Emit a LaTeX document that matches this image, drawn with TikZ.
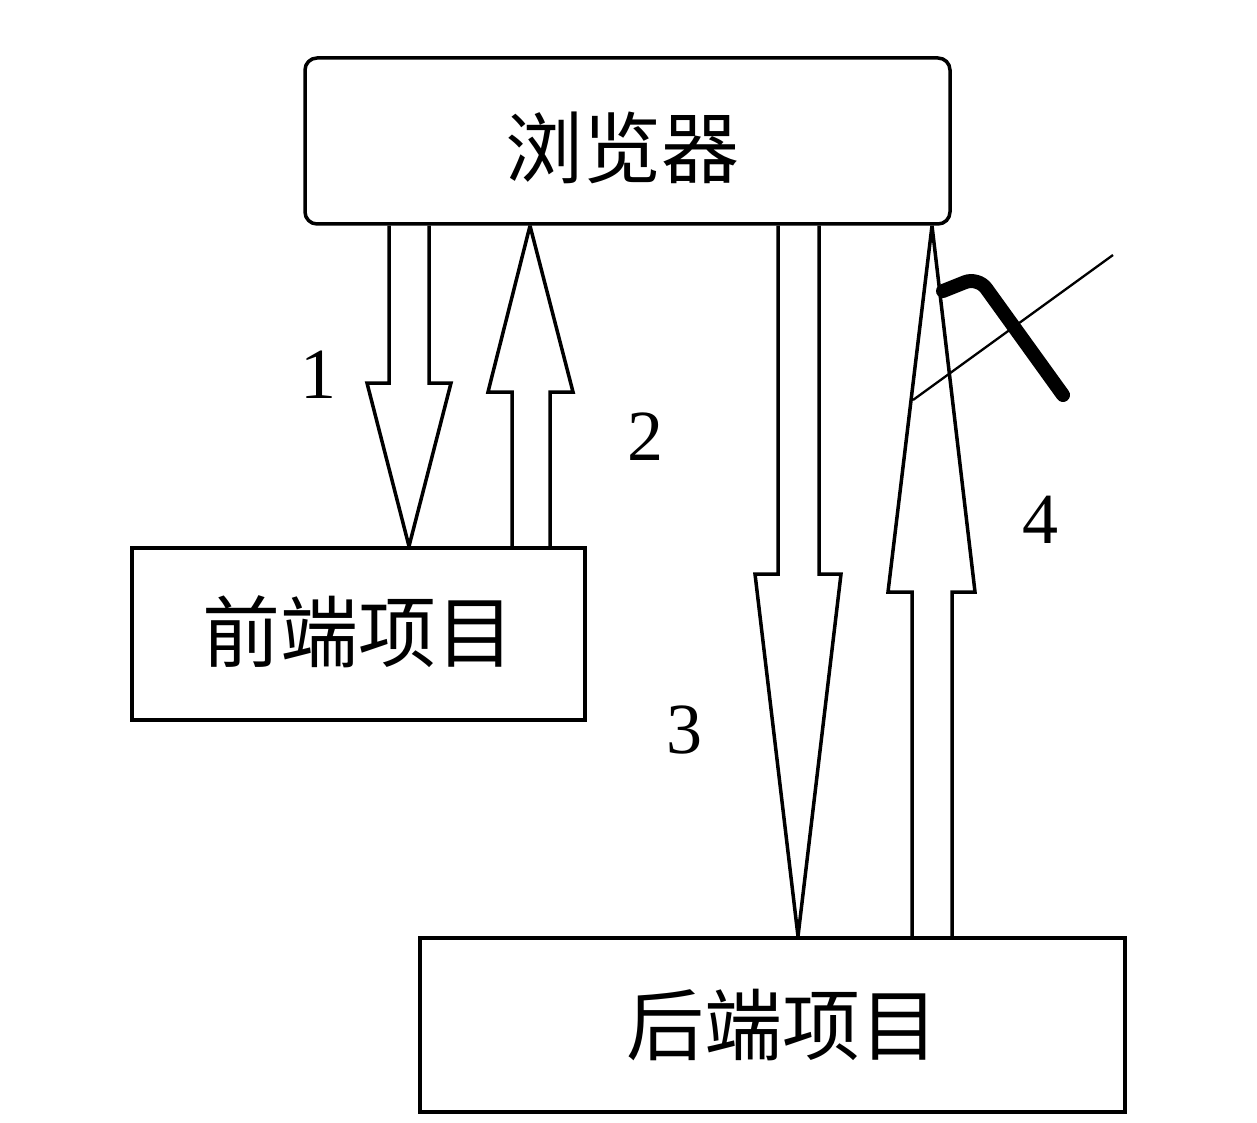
\documentclass[tikz,border=0pt]{standalone}
\usepackage{fontspec}
\setmainfont{Liberation Serif}
\newfontfamily\cjk{Noto Sans CJK SC}
\begin{document}
\begin{tikzpicture}[x=1pt,y=-1pt,
  box/.style={draw,line width=3.5pt,inner sep=0pt},
  cjklabel/.style={font=\cjk\fontsize{78}{82}\selectfont,inner sep=0pt},
  numlabel/.style={font=\fontsize{72}{76}\selectfont,inner sep=0pt},
  fatarrow/.style={draw,line width=3.5pt,line join=miter,miter limit=3}]
\useasboundingbox[fill=white] (0,0) rectangle (1257,1123);
\node[box,rounded corners=12pt,minimum width=645pt,minimum height=166pt] (browser) at (627.5,141) {};
\node[box,minimum width=453pt,minimum height=172pt] (front) at (358.5,634) {};
\node[box,minimum width=705pt,minimum height=174pt] (back) at (772.5,1025) {};
\node[cjklabel] (tbrowser) at (622,148) {浏览器};
\node[cjklabel] (tfront) at (358,632) {前端项目};
\node[cjklabel] (tback) at (782,1025) {后端项目};
% arrow 1: browser -> front
\draw[fatarrow] (389,0 |- browser.south) -- (389,383) -- (367,383) -- (409,0 |- front.north) -- (451,383) -- (429,383) -- (429,0 |- browser.south);
% arrow 2: front -> browser
\draw[fatarrow] (512,0 |- front.north) -- (512,392) -- (488,392) -- (530,0 |- browser.south) -- (573,392) -- (550,392) -- (550,0 |- front.north);
% arrow 3: browser -> back
\draw[fatarrow] (778,0 |- browser.south) -- (778,574) -- (755,574) -- (798,0 |- back.north) -- (841,574) -- (819,574) -- (819,0 |- browser.south);
% arrow 4: back -> browser
\draw[fatarrow] (912,0 |- back.north) -- (912,592) -- (888,592) -- (932,0 |- browser.south) -- (975,592) -- (952,592) -- (952,0 |- back.north);
% crossing stroke
\coordinate (c1) at (913,400);
\coordinate (c2) at (1113,255);
\draw[line width=2.3pt] (c1) -- (c2);
\coordinate (h1) at (943,291);
\coordinate (h2) at (978,277);
\coordinate (h3) at (1063,395);
\draw[line width=14pt,line cap=round,rounded corners=14pt] (h1) -- (h2) -- (h3);
\node[numlabel] (n1) at (318,375) {1};
\node[numlabel] (n2) at (645,437) {2};
\node[numlabel] (n3) at (684,730) {3};
\node[numlabel] (n4) at (1040,520) {4};
\end{tikzpicture}
\end{document}
